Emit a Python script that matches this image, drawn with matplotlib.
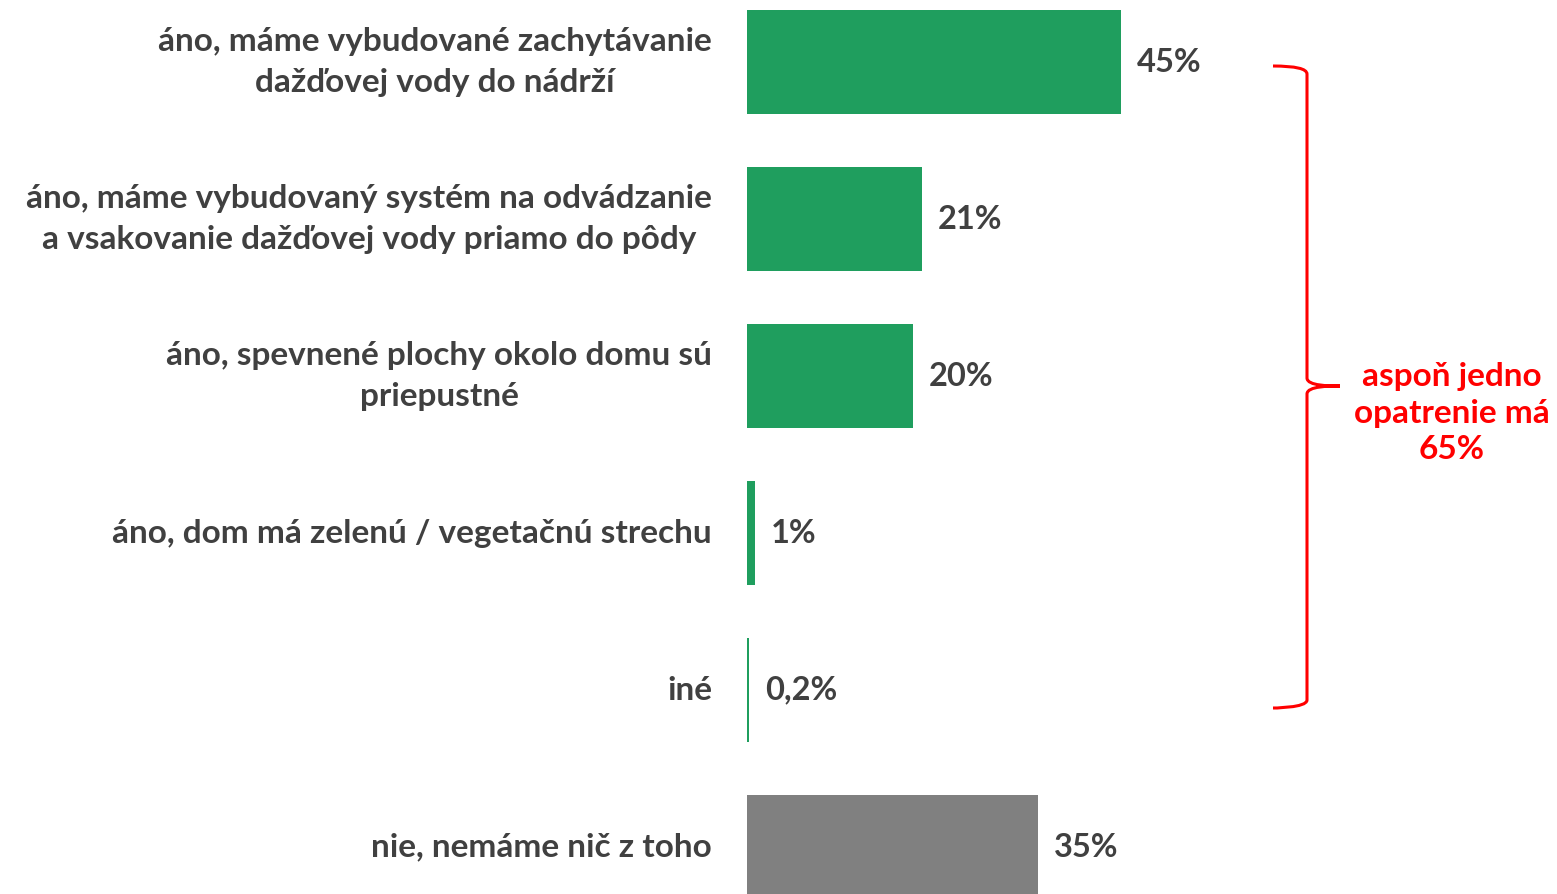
import matplotlib
matplotlib.use("Agg")
import matplotlib.pyplot as plt
from matplotlib.path import Path
from matplotlib.patches import PathPatch

categories = [
    "áno, máme vybudované zachytávanie\ndažďovej vody do nádrží",
    "áno, máme vybudovaný systém na odvádzanie\na vsakovanie dažďovej vody priamo do pôdy",
    "áno, spevnené plochy okolo domu sú\npriepustné",
    "áno, dom má zelenú / vegetačnú strechu",
    "iné",
    "nie, nemáme nič z toho",
]
values = [45, 21, 20, 1, 0.2, 35]
value_labels = ["45%", "21%", "20%", "1%", "0,2%", "35%"]
bracket_text = "aspoň jedno\nopatrenie má\n65%"

W, H = 1557, 894
fig = plt.figure(figsize=(W / 100, H / 100), dpi=100)
fig.patch.set_facecolor("white")
ax = fig.add_axes([747 / W, 0, 1 - 747 / W, 1])
ax.set_axis_off()

green = "#1F9E5E"
gray = "#808080"
colors = [green] * 5 + [gray]
ypos = list(range(len(values)))
ax.barh(ypos, values, height=0.662, color=colors, edgecolor="none")
ax.set_xlim(0, (W - 747) / 8.31)
ax.set_ylim((H - 62) / 157, -62 / 157)

txtcol = "#404040"
font = "Lato"
for y, v, lab, cat in zip(ypos, values, value_labels, categories):
    ax.annotate(lab, xy=(v, y), xytext=(16, 0), textcoords="offset pixels",
                va="center", ha="left", fontsize=23.5,
                fontweight="bold", color=txtcol, family=font)
    ax.annotate(cat, xy=(0, y), xytext=(-35, 0), textcoords="offset pixels",
                ha="right", va="center", multialignment="center",
                fontsize=24, fontweight="bold", color=txtcol, family=font,
                linespacing=1.5)

# bracket in figure pixel coords
def P(x, y):
    return (x / W, 1 - y / H)

xs, xv, xt = 1273, 1307, 1340
yt, ym, yb = 66, 386, 708
verts = [
    P(xs, yt), P(xv, yt), P(xv, yt + 8),
    P(xv, ym - 8),
    P(xv, ym), P(xt - 10, ym), P(xt, ym),
    P(xt - 10, ym), P(xv, ym), P(xv, ym + 8),
    P(xv, yb - 8),
    P(xv, yb), P(xs, yb), P(xs, yb),
]
codes = [Path.MOVETO, Path.CURVE3, Path.CURVE3,
         Path.LINETO,
         Path.CURVE4, Path.CURVE4, Path.CURVE4,
         Path.CURVE4, Path.CURVE4, Path.CURVE4,
         Path.LINETO,
         Path.CURVE4, Path.CURVE4, Path.CURVE4]
patch = PathPatch(Path(verts, codes), transform=fig.transFigure,
                  facecolor="none", edgecolor="#FF0000", lw=2.2)
fig.add_artist(patch)

fig.text(1452 / W, 1 - 413 / H, bracket_text, ha="center", va="center",
         multialignment="center", fontsize=24, fontweight="bold",
         color="#FF0000", family=font, linespacing=1.3)

fig.savefig("out.png", dpi=100)
